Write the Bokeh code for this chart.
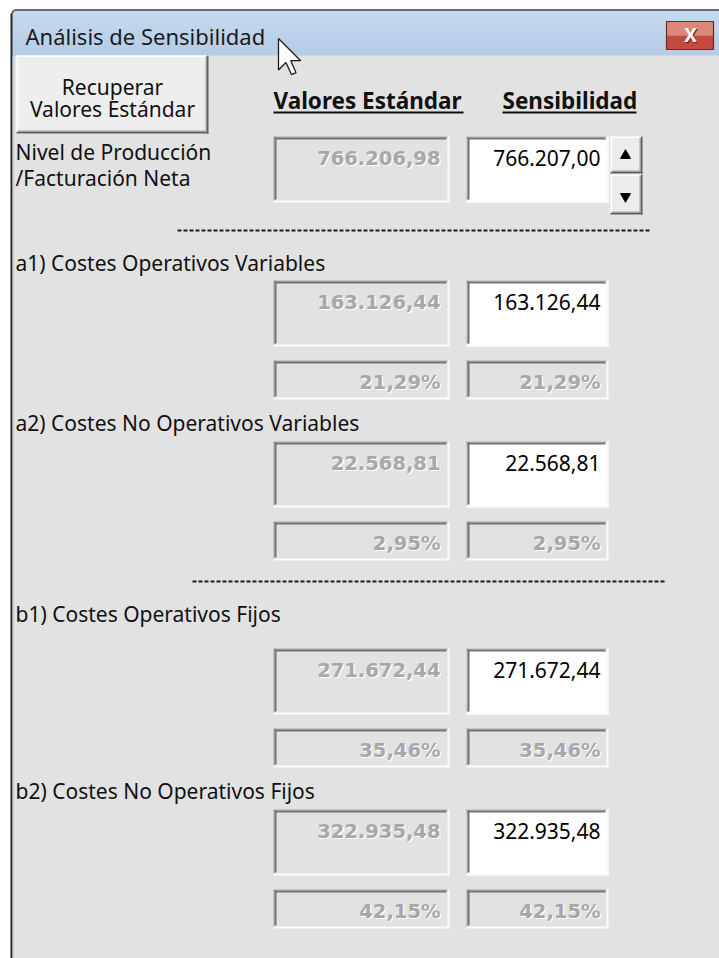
from bokeh.plotting import figure
from bokeh.models import ColumnDataSource, Range1d
from bokeh.embed import file_html
from bokeh.resources import INLINE
from bokeh.core.properties import value

# ---------------- data ----------------
title_text = "Análisis de Sensibilidad"
button_lines = ["Recuperar", "Valores Estándar"]
col_headers = ["Valores Estándar", "Sensibilidad"]
level_label = ["Nivel de Producción", "/Facturación Neta"]
row_labels = ["a1) Costes Operativos Variables",
              "a2) Costes No Operativos Variables",
              "b1) Costes Operativos Fijos",
              "b2) Costes No Operativos Fijos"]
std_values = [766206.98, 163126.44, 22568.81, 271672.44, 322935.48]
sens_values = [766207.00, 163126.44, 22568.81, 271672.44, 322935.48]
std_pct = [21.29, 2.95, 35.46, 42.15]
sens_pct = [21.29, 2.95, 35.46, 42.15]


def es_num(v):
    s = f"{v:,.2f}"
    return s.replace(",", "#").replace(".", ",").replace("#", ".")


def es_pct(v):
    return f"{v:.2f}".replace(".", ",") + "%"


# ---------------- layout (screen pixels of the dialog) ----------------
BODY = "#e2e2e2"
FONT = value("Noto Sans")
VFONT = value("DejaVu Sans")
W, H = 719, 958

GX0, GX1 = 273, 449          # grey (standard) column
WX0, WX1 = 466, 608          # white (sensitivity) column
VAL_TOPS = [136, 280, 441, 648, 809]
VAL_H = 66
PCT_OFF, PCT_H = 80, 39
LABEL_YS = [262, 422, 613, 790]
DASH_LINES = [(177, 650, 230), (192, 665, 581)]

p = figure(width=W, height=H, x_range=Range1d(0, W), y_range=Range1d(H, 0),
           output_backend="svg", toolbar_location=None, min_border=0,
           x_axis_location=None, y_axis_location=None, outline_line_color=None,
           background_fill_color="white", border_fill_color="white")
p.grid.visible = False

# ---------------- window frame ----------------
tb_top, tb_bot = 10, 55
n = 15
c0 = (0xc6, 0xda, 0xef)
c1 = (0xb6, 0xcd, 0xe7)
tb_l, tb_r, tb_t, tb_b, tb_c = [], [], [], [], []
for i in range(n):
    t = i / (n - 1)
    col = "#%02x%02x%02x" % tuple(int(a + (b - a) * t) for a, b in zip(c0, c1))
    y0 = tb_top + (tb_bot - tb_top) * i / n
    y1 = tb_top + (tb_bot - tb_top) * (i + 1) / n
    tb_l.append(11); tb_r.append(W); tb_t.append(y0); tb_b.append(y1 + 0.5); tb_c.append(col)
p.quad(left=tb_l, right=tb_r, top=tb_t, bottom=tb_b, fill_color=tb_c, line_color=None)
p.quad(left=[13], right=[W], top=[55], bottom=[H], fill_color=BODY, line_color=None)
p.segment(x0=[14], y0=[9.5], x1=[W], y1=[9.5], line_color="#3a3a3a", line_width=1.5)
p.segment(x0=[11], y0=[13], x1=[11], y1=[H], line_color="#262626", line_width=2)
p.segment(x0=[11.2], y0=[13], x1=[14], y1=[9.6], line_color="#555555", line_width=1.5)
p.segment(x0=[12.8], y0=[55], x1=[12.8], y1=[H], line_color="#b3cbe6", line_width=1)

# close button
p.quad(left=[666], right=[713], top=[21], bottom=[35], fill_color="#dc8878", line_color=None)
p.quad(left=[666], right=[713], top=[35], bottom=[49], fill_color="#c44a3e", line_color=None)
p.quad(left=[666], right=[713], top=[21], bottom=[49], fill_color=None, line_color="#6a2a22", line_width=1.2)
p.text(x=[691], y=[35], text=["X"], text_font=FONT, text_font_style="bold", text_font_size="19px",
       text_color="#5a1a14", text_align="center", text_baseline="middle")
p.text(x=[690], y=[34], text=["X"], text_font=FONT, text_font_style="bold", text_font_size="19px",
       text_color="white", text_align="center", text_baseline="middle")

p.text(x=[25], y=[35], text=[title_text], text_font=FONT, text_font_size="22px",
       text_color="#1b1b1b", text_align="left", text_baseline="middle")


# ---------------- bevel helpers ----------------
def sunken(boxes, fill):
    p.quad(left=[b[0] for b in boxes], right=[b[1] for b in boxes],
           top=[b[2] for b in boxes], bottom=[b[3] for b in boxes],
           fill_color=fill, line_color=None)
    L, R, T, B, C = [], [], [], [], []
    for x0, x1, y0, y1 in boxes:
        # white highlight bottom / right
        L += [x0, x1 - 2]; R += [x1, x1]; T += [y1 - 2, y0]; B += [y1, y1]; C += ["#fbfbfb"] * 2
        # dark shadow top / left
        L += [x0, x0]; R += [x1 - 2, x0 + 1]; T += [y0, y0]; B += [y0 + 1, y1 - 2]; C += ["#a6a6a6"] * 2
        L += [x0 + 1, x0 + 1]; R += [x1 - 3, x0 + 3]; T += [y0 + 1, y0 + 1]; B += [y0 + 3, y1 - 3]; C += ["#727272"] * 2
    p.quad(left=L, right=R, top=T, bottom=B, fill_color=C, line_color=None)


def raised(boxes, fill):
    p.quad(left=[b[0] for b in boxes], right=[b[1] for b in boxes],
           top=[b[2] for b in boxes], bottom=[b[3] for b in boxes],
           fill_color=fill, line_color=None)
    L, R, T, B, C = [], [], [], [], []
    for x0, x1, y0, y1 in boxes:
        L += [x0, x0]; R += [x1 - 1, x0 + 1.5]; T += [y0, y0]; B += [y0 + 1.5, y1 - 1]; C += ["#ffffff"] * 2
        L += [x0 + 1, x1 - 3]; R += [x1 - 1, x1 - 1]; T += [y1 - 3, y0 + 1]; B += [y1 - 1, y1 - 1]; C += ["#a0a0a0"] * 2
        L += [x0, x1 - 1.5]; R += [x1, x1]; T += [y1 - 1.5, y0]; B += [y1, y1]; C += ["#5e5e5e"] * 2
    p.quad(left=L, right=R, top=T, bottom=B, fill_color=C, line_color=None)


# ---------------- "Recuperar" button ----------------
raised([(16, 208, 55, 133)], "#eeeeee")
p.text(x=[112, 112], y=[86, 108], text=button_lines, text_font=FONT, text_font_size="21px",
       text_color="#111111", text_align="center", text_baseline="middle")

# ---------------- column headers ----------------
hx = [273, 502]
hx_end = [463, 636]
p.text(x=hx, y=[100, 100], text=col_headers, text_font=FONT, text_font_style="bold",
       text_font_size="22.5px", text_color="#111111", text_align="left", text_baseline="middle")
p.segment(x0=hx, y0=[112, 112], x1=hx_end, y1=[112, 112], line_color="#111111", line_width=2)

# ---------------- labels ----------------
p.text(x=[15, 15], y=[151, 177], text=level_label, text_font=FONT, text_font_size="21px",
       text_color="#111111", text_align="left", text_baseline="middle")
p.text(x=[15] * len(row_labels), y=LABEL_YS, text=row_labels, text_font=FONT, text_font_size="21px",
       text_color="#111111", text_align="left", text_baseline="middle")

# dashed separators
p.segment(x0=[d[0] for d in DASH_LINES], y0=[d[2] for d in DASH_LINES],
          x1=[d[1] for d in DASH_LINES], y1=[d[2] for d in DASH_LINES],
          line_color="#1a1a1a", line_width=2, line_dash="4 2")

# ---------------- boxes ----------------
grey_boxes = [(GX0, GX1, t, t + VAL_H) for t in VAL_TOPS]
white_boxes = [(WX0, WX1, t, t + VAL_H) for t in VAL_TOPS]
pct_boxes = []
for t in VAL_TOPS[1:]:
    pct_boxes.append((GX0, GX1, t + PCT_OFF, t + PCT_OFF + PCT_H))
    pct_boxes.append((WX0, WX1, t + PCT_OFF, t + PCT_OFF + PCT_H))
sunken(grey_boxes + pct_boxes, BODY)
sunken(white_boxes, "#ffffff")

# spin buttons
raised([(610, 642, 136, 173), (610, 642, 174, 214)], "#ececec")
p.scatter(x=[625], y=[155], marker="triangle", size=10, fill_color="black", line_color="black")
p.scatter(x=[625], y=[196], marker="inverted_triangle", size=10, fill_color="black", line_color="black")

# ---------------- values ----------------
grey_src = ColumnDataSource(dict(
    x=[GX1 - 9] * len(std_values) + [GX1 - 9] * len(std_pct) + [WX1 - 8] * len(sens_pct),
    y=[t + 21 for t in VAL_TOPS] + [t + PCT_OFF + 22 for t in VAL_TOPS[1:]] * 2,
    text=[es_num(v) for v in std_values] + [es_pct(v) for v in std_pct] + [es_pct(v) for v in sens_pct],
))
p.text(x="x", y="y", text="text", source=grey_src, text_font=VFONT, text_font_style="bold",
       text_font_size="19.5px", text_color="white", text_align="right", text_baseline="middle",
       x_offset=1.2, y_offset=1.2)
p.text(x="x", y="y", text="text", source=grey_src, text_font=VFONT, text_font_style="bold",
       text_font_size="19.5px", text_color="#a7a8ab", text_align="right", text_baseline="middle")

white_src = ColumnDataSource(dict(
    x=[WX1 - 8] * len(sens_values),
    y=[t + 21 for t in VAL_TOPS],
    text=[es_num(v) for v in sens_values],
))
p.text(x="x", y="y", text="text", source=white_src, text_font=FONT, text_font_size="21px",
       text_color="#000000", text_align="right", text_baseline="middle")

# ---------------- mouse pointer ----------------
tipx, tipy, s = 278, 38, 1.85
shape = [(0, 0), (0, 17), (4, 13), (7, 19.5), (9.5, 18.5), (6.6, 12), (12, 12)]
p.patch(x=[tipx + a * s for a, b in shape], y=[tipy + b * s for a, b in shape],
        fill_color="white", line_color="#1a1a1a", line_width=1.3)

open("out.html", "w").write(file_html(p, INLINE))
